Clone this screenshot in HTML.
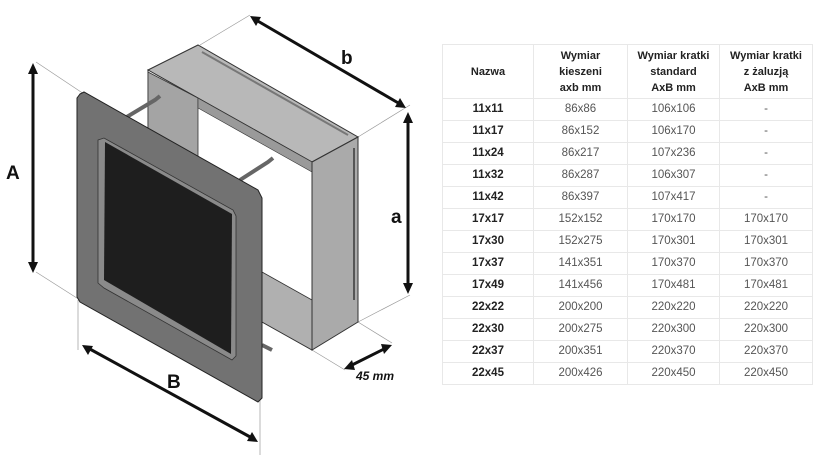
<!DOCTYPE html>
<html><head><meta charset="utf-8"><style>
body{margin:0;width:815px;height:470px;background:#fff;position:relative;overflow:hidden;font-family:"Liberation Sans",sans-serif}
table{position:absolute;left:442px;top:44px;width:370px;border-collapse:collapse;font-size:11.5px;color:#555;table-layout:fixed}
td{border:1px solid #e8e8e8;text-align:center;height:21px;padding:0;line-height:13px}
tr.h td{height:53px;font-weight:bold;color:#222;line-height:16px;font-size:11px}
td.n{font-weight:bold;color:#222}
</style></head><body>
<svg width="420" height="470" style="position:absolute;left:0;top:0">
<g stroke="#999" stroke-width="0.7" fill="none">
<line x1="36" y1="62" x2="84" y2="94"/><line x1="36" y1="272" x2="80" y2="300"/>
<line x1="78" y1="300" x2="78" y2="350"/><line x1="260" y1="400" x2="260" y2="455"/>
<line x1="200" y1="45" x2="250" y2="15"/><line x1="358" y1="137" x2="410" y2="105"/>
<line x1="358" y1="322" x2="410" y2="295"/><line x1="358" y1="322" x2="392" y2="343"/><line x1="312" y1="350" x2="345" y2="370"/>
</g>
<polygon points="148,70 198,45 358,137 312,162" fill="#b8b8b8" stroke="#333" stroke-width="1"/>
<polygon points="148,70 312,162 312,350 148,258" fill="#fff" stroke="#333" stroke-width="1"/>
<polygon points="148,72 198,98 198,300 148,270" fill="#a4a4a4" stroke="#333" stroke-width="0.8"/>
<polygon points="155,74 312,162 312,172 198,108 198,98" fill="#9a9a9a" stroke="#333" stroke-width="0.6"/>
<polygon points="262,272 312,300 312,350 262,322" fill="#b0b0b0" stroke="#333" stroke-width="0.8"/>
<polygon points="312,162 358,137 358,322 312,350" fill="#aaa" stroke="#333" stroke-width="1"/>
<line x1="354" y1="148" x2="354" y2="300" stroke="#555" stroke-width="2"/>
<line x1="202" y1="52" x2="348" y2="135" stroke="#777" stroke-width="2"/>
<path d="M125,118 L155,100 L160,96" stroke="#666" stroke-width="4" fill="none"/>
<path d="M240,180 L268,162 L273,158" stroke="#666" stroke-width="4" fill="none"/>
<path d="M262,345 L272,350" stroke="#666" stroke-width="4" fill="none"/>
<polygon points="80,94 84,92 258,190 262,198 262,398 258,402 80,302 77,297 77,98" fill="#727272" stroke="#222" stroke-width="1"/>
<polygon points="98,140 104,138 233,210 236,216 236,356 232,360 104,288 98,283" fill="#8a8a8a" stroke="#333" stroke-width="0.8"/>
<polygon points="105,142 232,214 231,354 104,280" fill="#1e1e1e"/>
<g stroke="#111" stroke-width="3" fill="#111">
<line x1="33" y1="70" x2="33" y2="266"/>
<line x1="88" y1="348" x2="252" y2="438"/>
<line x1="256" y1="20" x2="400" y2="104"/>
<line x1="408" y1="118" x2="408" y2="288"/>
<line x1="350" y1="366" x2="386" y2="348"/>
</g>
<g fill="#111">
<polygon points="33,63 28,74 38,74"/><polygon points="33,273 28,262 38,262"/>
<polygon points="82,345 93,346 88,355"/><polygon points="258,442 247,441 252,432"/>
<polygon points="250,16 261,17 256,26"/><polygon points="406,108 395,107 400,98"/>
<polygon points="408,112 403,123 413,123"/><polygon points="408,294 403,283 413,283"/>
<polygon points="344,369 352,360 355,370"/><polygon points="392,345 384,354 381,344"/>
</g>
<g font-family="Liberation Sans" font-weight="bold" fill="#111">
<text x="6" y="179" font-size="19">A</text>
<text x="167" y="388" font-size="19">B</text>
<text x="341" y="64" font-size="19">b</text>
<text x="391" y="223" font-size="19">a</text>
<text x="356" y="380" font-size="12" font-style="italic">45 mm</text>
</g>
</svg>
<table>
<colgroup><col style="width:91px"><col style="width:94px"><col style="width:92px"><col style="width:93px"></colgroup>
<tr class="h"><td>Nazwa</td><td>Wymiar<br>kieszeni<br>axb mm</td><td>Wymiar kratki<br>standard<br>AxB mm</td><td>Wymiar kratki<br>z żaluzją<br>AxB mm</td></tr>
<tr><td class="n">11x11</td><td>86x86</td><td>106x106</td><td>-</td></tr>
<tr><td class="n">11x17</td><td>86x152</td><td>106x170</td><td>-</td></tr>
<tr><td class="n">11x24</td><td>86x217</td><td>107x236</td><td>-</td></tr>
<tr><td class="n">11x32</td><td>86x287</td><td>106x307</td><td>-</td></tr>
<tr><td class="n">11x42</td><td>86x397</td><td>107x417</td><td>-</td></tr>
<tr><td class="n">17x17</td><td>152x152</td><td>170x170</td><td>170x170</td></tr>
<tr><td class="n">17x30</td><td>152x275</td><td>170x301</td><td>170x301</td></tr>
<tr><td class="n">17x37</td><td>141x351</td><td>170x370</td><td>170x370</td></tr>
<tr><td class="n">17x49</td><td>141x456</td><td>170x481</td><td>170x481</td></tr>
<tr><td class="n">22x22</td><td>200x200</td><td>220x220</td><td>220x220</td></tr>
<tr><td class="n">22x30</td><td>200x275</td><td>220x300</td><td>220x300</td></tr>
<tr><td class="n">22x37</td><td>200x351</td><td>220x370</td><td>220x370</td></tr>
<tr><td class="n">22x45</td><td>200x426</td><td>220x450</td><td>220x450</td></tr>
</table>
</body></html>
